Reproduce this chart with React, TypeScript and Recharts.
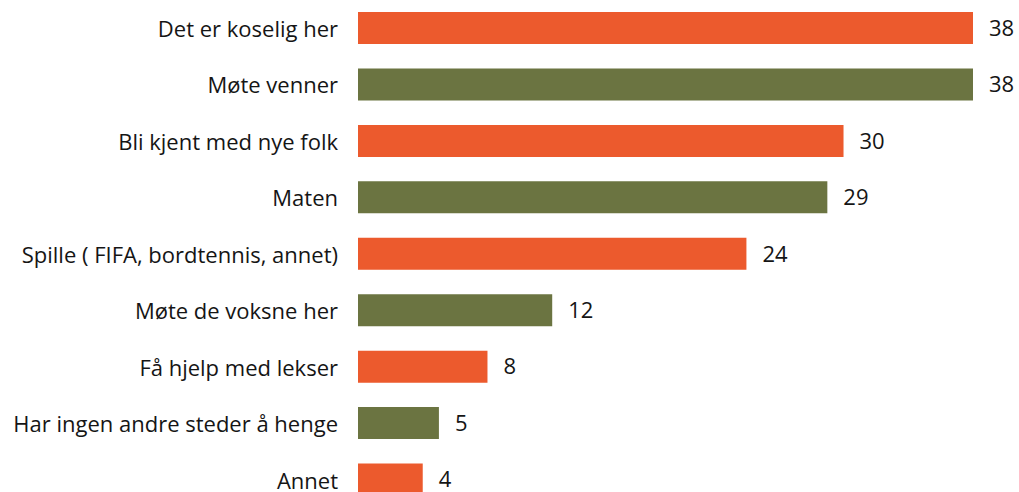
import { BarChart, Bar, XAxis, YAxis, Cell, LabelList } from 'recharts'

const categories = [
  'Det er koselig her',
  'Møte venner',
  'Bli kjent med nye folk',
  'Maten',
  'Spille ( FIFA, bordtennis, annet)',
  'Møte de voksne her',
  'Få hjelp med lekser',
  'Har ingen andre steder å henge',
  'Annet',
]
const counts = [38, 38, 30, 29, 24, 12, 8, 5, 4]
const palette = ['#EC5A2D', '#6B7441']

const FONT = '"Open Sans", "Noto Sans", sans-serif'

export default function App() {
  const data = categories.map((name, i) => ({ name, value: counts[i] }))

  return (
    <div
      style={{
        position: 'absolute',
        left: 0,
        top: 0,
        width: 1019,
        height: 492,
        overflow: 'hidden',
        background: '#fff',
      }}
    >
      <BarChart
        width={1019}
        height={508}
        data={data}
        layout="vertical"
        margin={{ top: 0, right: 46, bottom: 0, left: 0 }}
      >
        <XAxis type="number" domain={[0, 38]} hide />
        <YAxis
          type="category"
          dataKey="name"
          width={358}
          axisLine={false}
          tickLine={false}
          tickSize={0}
          tickMargin={20}
          interval={0}
          tick={{ fill: '#151515', fontSize: 22, fontFamily: FONT, dy: 1 }}
        />
        <Bar dataKey="value" barSize={32} isAnimationActive={false}>
          {data.map((d, i) => (
            <Cell key={d.name} fill={palette[i % 2]} />
          ))}
          <LabelList
            dataKey="value"
            position="right"
            offset={16}
            fill="#151515"
            fontSize={22}
            fontFamily={FONT}
          />
        </Bar>
      </BarChart>
    </div>
  )
}
